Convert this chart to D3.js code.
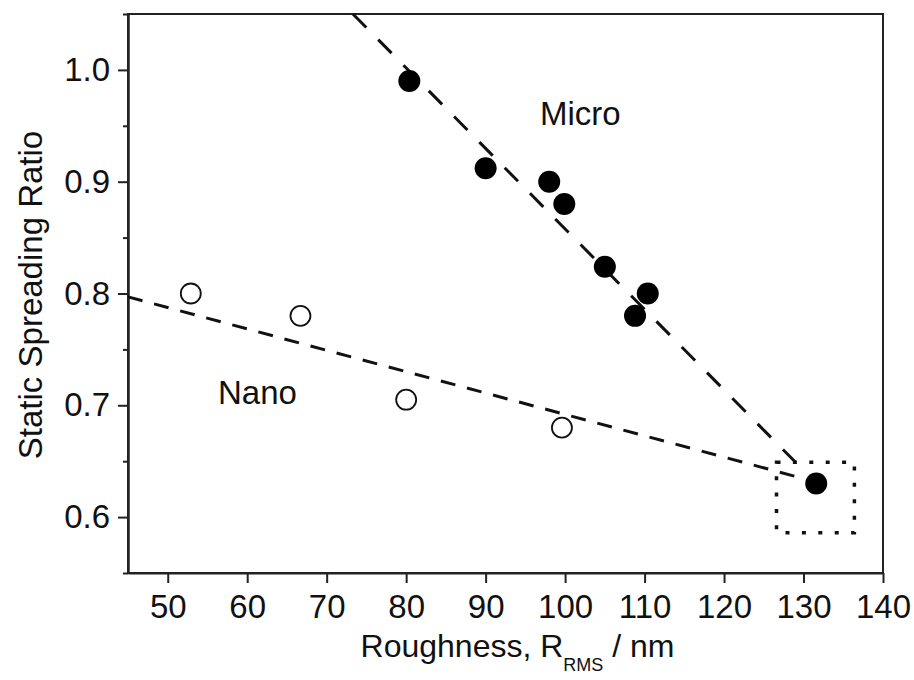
<!DOCTYPE html>
<html>
<head>
<meta charset="utf-8">
<script src="https://cdn.jsdelivr.net/npm/d3@7"></script>
<style>
  body { margin: 0; background: #fff; }
  text { font-family: "Liberation Sans", Arial, sans-serif; fill: #111; }
</style>
</head>
<body>
<div id="chart"></div>
<script>
// values
var microX = [80.4, 90.0, 98.0, 99.9, 105.0, 110.4, 108.8, 131.6],
    microY = [0.990, 0.912, 0.900, 0.880, 0.824, 0.800, 0.780, 0.630];
var nanoX = [52.9, 66.7, 80.0, 99.6],
    nanoY = [0.800, 0.780, 0.705, 0.680];
var microFitX = [73.3, 129.0],
    microFitY = [1.05, 0.649];
var nanoFitX = [45, 129.2],
    nanoFitY = [0.797, 0.636];
var boxX = [126.6, 136.4],
    boxY = [0.586, 0.649];
var xTicks = [50, 60, 70, 80, 90, 100, 110, 120, 130, 140],
    yTicks = [0.6, 0.7, 0.8, 0.9, 1.0],
    yMinor = [0.55, 0.65, 0.75, 0.85, 0.95, 1.05];

var margin = {top: 14, left: 128},
    width = 755,
    height = 559;

var svg = d3.select("#chart")
  .append("svg")
  .attr("width", 914)
  .attr("height", 680)
  .append("g")
  .attr("transform", `translate(${margin.left},${margin.top})`);

var x = d3.scaleLinear().domain([45, 140]).range([0, width]);
var y = d3.scaleLinear().domain([0.55, 1.05]).range([height, 0]);

function styleAxis(g) {
  g.select(".domain").attr("stroke", "#222").attr("stroke-width", 2);
  g.selectAll(".tick line").attr("stroke", "#222").attr("stroke-width", 2);
  g.selectAll("text").attr("font-size", 33).attr("fill", "#111");
}

// frame
svg.append("rect")
  .attr("width", width).attr("height", height)
  .attr("fill", "none").attr("stroke", "#222").attr("stroke-width", 2);

svg.append("g")
  .attr("transform", `translate(0,${height})`)
  .call(d3.axisBottom(x).tickValues(xTicks).tickSize(10).tickPadding(12).tickSizeOuter(0))
  .call(styleAxis);

svg.append("g")
  .call(d3.axisLeft(y).tickValues(yMinor).tickSize(5).tickFormat("").tickSizeOuter(0))
  .call(styleAxis);

svg.append("g")
  .call(d3.axisLeft(y).tickValues(yTicks).tickSize(10).tickPadding(8).tickSizeOuter(0).tickFormat(d3.format(".1f")))
  .call(styleAxis);

// fit lines
var line = d3.line().x(d => x(d[0])).y(d => y(d[1]));

svg.append("path")
  .datum(d3.zip(microFitX, microFitY))
  .attr("d", line)
  .attr("fill", "none").attr("stroke", "#111").attr("stroke-width", 3)
  .attr("stroke-dasharray", "19 17");

svg.append("path")
  .datum(d3.zip(nanoFitX, nanoFitY))
  .attr("d", line)
  .attr("fill", "none").attr("stroke", "#111").attr("stroke-width", 3)
  .attr("stroke-dasharray", "15 12");

// dotted box
svg.append("rect")
  .attr("x", x(boxX[0]))
  .attr("y", y(boxY[1]))
  .attr("width", x(boxX[1]) - x(boxX[0]))
  .attr("height", y(boxY[0]) - y(boxY[1]))
  .attr("fill", "none").attr("stroke", "#111").attr("stroke-width", 3.5)
  .attr("stroke-dasharray", "4 12.4");

// points
svg.selectAll(".nano")
  .data(d3.zip(nanoX, nanoY))
  .enter().append("circle")
  .attr("cx", d => x(d[0])).attr("cy", d => y(d[1]))
  .attr("r", 10)
  .attr("fill", "#fff").attr("stroke", "#111").attr("stroke-width", 1.8);

svg.selectAll(".micro")
  .data(d3.zip(microX, microY))
  .enter().append("circle")
  .attr("cx", d => x(d[0])).attr("cy", d => y(d[1]))
  .attr("r", 11)
  .attr("fill", "#000");

// labels
svg.append("text")
  .attr("x", 540 - margin.left).attr("y", 125 - margin.top)
  .attr("font-size", 33)
  .text("Micro");

svg.append("text")
  .attr("x", 218 - margin.left).attr("y", 404 - margin.top)
  .attr("font-size", 33)
  .text("Nano");

// axis titles
var xt = svg.append("text")
  .attr("x", width / 2 + 12).attr("y", 657 - margin.top)
  .attr("text-anchor", "middle")
  .attr("font-size", 32);
xt.append("tspan").text("Roughness, R");
xt.append("tspan").attr("font-size", 18).attr("dy", 14).text("RMS");
xt.append("tspan").attr("dy", -14).text(" / nm");

svg.append("text")
  .attr("transform", `translate(${42 - margin.left},${295 - margin.top}) rotate(-90)`)
  .attr("text-anchor", "middle")
  .attr("font-size", 33)
  .text("Static Spreading Ratio");
</script>
</body>
</html>
